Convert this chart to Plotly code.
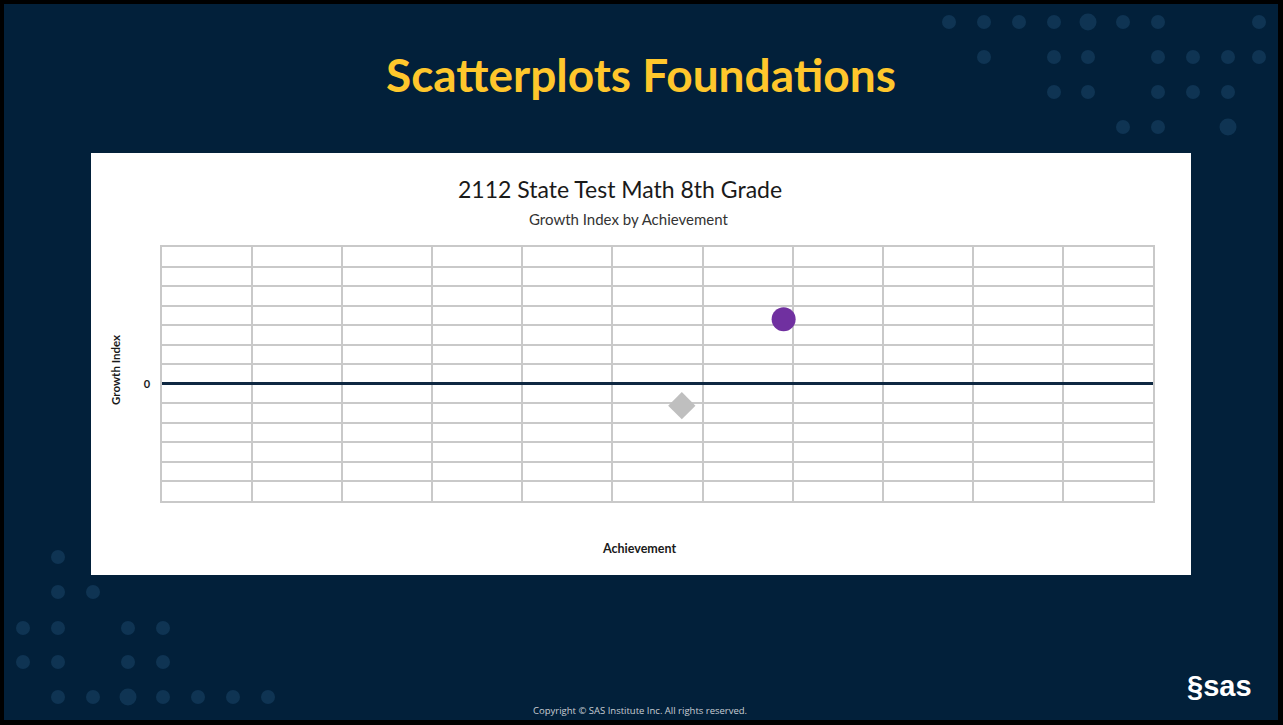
import plotly.graph_objects as go

# data
achievement = [6.9, 5.77]
growth_index = [3.3, -1.12]
x_range = [0, 11]
y_range = [-6, 7]

# page geometry (pixels)
W, H = 1283, 725
L, R, T, B = 162, 1153, 247, 501


def px(x):
    return (x - L) / (R - L)


def py(y):
    return (B - y) / (B - T)


fig = go.Figure()

# purple circle and grey diamond
fig.add_trace(go.Scatter(
    x=[achievement[0]], y=[growth_index[0]], mode="markers",
    marker=dict(symbol="circle", size=24, color="#7030A0"),
    showlegend=False, hoverinfo="x+y",
))
fig.add_trace(go.Scatter(
    x=[achievement[1]], y=[growth_index[1]], mode="markers",
    marker=dict(symbol="diamond", size=21, color="#BFBFBF"),
    showlegend=False, hoverinfo="x+y",
))

shapes = []
# black frame and navy slide
shapes.append(dict(type="rect", xref="paper", yref="paper", layer="below",
                   x0=px(0), x1=px(W), y0=py(H), y1=py(0),
                   fillcolor="#000000", line=dict(width=0)))
shapes.append(dict(type="rect", xref="paper", yref="paper", layer="below",
                   x0=px(4), x1=px(W - 5), y0=py(H - 5), y1=py(4),
                   fillcolor="#02203A", line=dict(width=0)))

# decorative dots
dot_color = "#0F3453"
dots = [
    (949, 22, 7), (984, 22, 7), (1019, 22, 7), (1054, 22, 7), (1088, 22, 8.5),
    (1123, 22, 7), (1158, 22, 7), (1259, 22, 7),
    (984, 57, 7), (1054, 57, 7), (1088, 57, 7), (1158, 57, 7), (1193, 57, 7),
    (1228, 57, 7), (1259, 57, 7),
    (1054, 92, 7), (1088, 92, 7), (1158, 92, 7), (1193, 92, 7), (1228, 92, 7),
    (1123, 127, 7), (1158, 127, 7), (1228, 127, 8.5),
    (58, 557, 7),
    (58, 592, 7), (93, 592, 7),
    (23, 628, 7), (58, 628, 7), (128, 628, 7), (163, 628, 7),
    (23, 662, 7), (58, 662, 7), (128, 662, 7), (163, 662, 7),
    (58, 697, 7), (93, 697, 7), (128, 697, 8.5), (163, 697, 7), (198, 697, 7),
    (233, 697, 7), (268, 697, 7),
]
for cx, cy, r in dots:
    shapes.append(dict(type="circle", xref="paper", yref="paper", layer="below",
                       x0=px(cx - r), x1=px(cx + r), y0=py(cy + r), y1=py(cy - r),
                       fillcolor=dot_color, line=dict(width=0)))

# white chart panel
shapes.append(dict(type="rect", xref="paper", yref="paper", layer="below",
                   x0=px(91), x1=px(1191), y0=py(575), y1=py(153),
                   fillcolor="#FFFFFF", line=dict(width=0)))

annotations = [
    dict(text="<b>Scatterplots Foundations</b>", x=px(641), y=py(74),
         font=dict(family="Lato", size=46, color="#FFC72C")),
    dict(text="2112 State Test Math 8th Grade", x=px(620), y=py(189),
         font=dict(family="Lato", size=23, color="#1A1A1A")),
    dict(text="Growth Index by Achievement", x=px(628), y=py(219),
         font=dict(family="Lato", size=15, color="#333333")),
    dict(text="<b>Achievement</b>", x=px(639), y=py(548),
         font=dict(family="Lato", size=12.5, color="#1A1A1A")),
    dict(text="<b>Growth Index</b>", x=px(115), y=py(370), textangle=-90,
         font=dict(family="Lato", size=11.5, color="#1A1A1A")),
    dict(text="Copyright © SAS Institute Inc. All rights reserved.",
         x=px(640), y=py(710),
         font=dict(family="Open Sans", size=9.5, color="#C8CDD3")),
    dict(text="<b>§sas</b>", x=px(1219), y=py(686),
         font=dict(family="Liberation Sans", size=29, color="#FFFFFF")),
]
for a in annotations:
    a.update(xref="paper", yref="paper", showarrow=False,
             xanchor="center", yanchor="middle")

fig.update_layout(
    width=W, height=H, autosize=False,
    margin=dict(l=L, r=W - R, t=T, b=H - B, pad=0),
    paper_bgcolor="#02203A",
    plot_bgcolor="#FFFFFF",
    shapes=shapes,
    annotations=annotations,
    xaxis=dict(
        range=x_range, dtick=1, showgrid=True, gridcolor="#C9C9C9",
        gridwidth=1.5, showticklabels=False, zeroline=False,
        showline=True, linecolor="#C9C9C9", linewidth=1.5, mirror=True,
        fixedrange=True,
    ),
    yaxis=dict(
        range=y_range, tickvals=[0], ticktext=["0"], showgrid=True,
        gridcolor="#C9C9C9", gridwidth=1.5,
        minor=dict(dtick=1, showgrid=True, gridcolor="#C9C9C9", gridwidth=1.5),
        zeroline=True, zerolinecolor="#0E2841", zerolinewidth=3,
        showline=True, linecolor="#C9C9C9", linewidth=1.5, mirror=True,
        tickfont=dict(family="Lato", size=11, color="#1A1A1A", weight="bold"),
        ticklabelstandoff=8, fixedrange=True,
    ),
)

# drop the default page margin so the figure fills the window exactly
fig.write_html("out.html", config={"displayModeBar": False},
               post_script="document.body.style.margin='0px';")
